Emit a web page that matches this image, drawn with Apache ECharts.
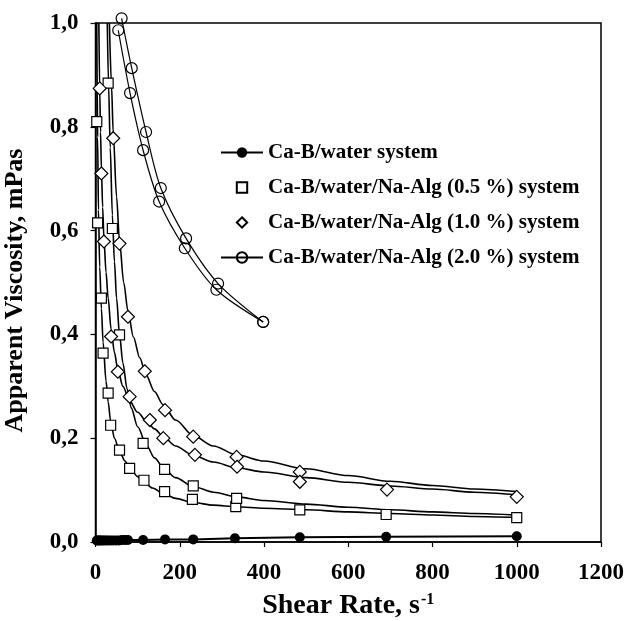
<!DOCTYPE html>
<html>
<head>
<meta charset="utf-8">
<script src="https://cdn.jsdelivr.net/npm/echarts@6/dist/echarts.min.js"></script>
<style>
html,body{margin:0;padding:0;background:#fff;}
#chart{width:624px;height:621px;}
</style>
</head>
<body>
<div id="chart"></div>
<script>
// ---- tick labels ----
const xTickLabels = ['0', '200', '400', '600', '800', '1000', '1200'];
const yTickLabels = ['0,0', '0,2', '0,4', '0,6', '0,8', '1,0'];

// ---- legend names ----
const names = [
  'Ca-B/water system',
  'Ca-B/water/Na-Alg (0.5 %) system',
  'Ca-B/water/Na-Alg (1.0 %) system',
  'Ca-B/water/Na-Alg (2.0 %) system'
];

// ---- Ca-B/water ----
const waterX = [3, 6, 9, 12, 16, 20, 25, 30, 36, 42, 49, 56, 63, 70, 77, 113, 165, 232, 331, 485, 690, 1000];
const waterY = [0.003, 0.003, 0.003, 0.003, 0.003, 0.003, 0.003, 0.003, 0.003, 0.003, 0.003, 0.003, 0.004, 0.004, 0.004, 0.004, 0.005, 0.005, 0.007, 0.009, 0.010, 0.011];

// ---- 0.5 % (squares) ----
const sq1X = [3, 5, 14, 18, 30, 36, 57, 81, 115, 164, 230, 333, 485, 690, 1000];
const sq1Y = [0.81, 0.615, 0.47, 0.364, 0.287, 0.225, 0.177, 0.142, 0.119, 0.097, 0.082, 0.068, 0.062, 0.053, 0.047];
const sq2X = [30, 40, 57, 113, 164, 232, 335];
const sq2Y = [0.884, 0.604, 0.399, 0.190, 0.140, 0.108, 0.084];
const fitSq1X = [3, 4, 5, 7, 10, 14, 18, 25, 30, 36, 45, 57, 70, 81, 100, 115, 135, 164, 190, 232, 280, 335, 400, 500, 600, 700, 800, 900, 1000];
const fitSq1Y = [1.0, 0.88, 0.78, 0.64, 0.53, 0.45, 0.385, 0.31, 0.27, 0.232, 0.20, 0.175, 0.156, 0.143, 0.126, 0.115, 0.104, 0.092, 0.084, 0.076, 0.071, 0.068, 0.065, 0.062, 0.058, 0.055, 0.052, 0.049, 0.047];
const fitSq2X = [28, 31, 35, 40, 45, 50, 57, 65, 75, 85, 100, 122, 140, 164, 190, 232, 280, 335, 400, 500, 600, 700, 800, 900, 1000];
const fitSq2Y = [1.0, 0.88, 0.76, 0.63, 0.54, 0.47, 0.40, 0.345, 0.295, 0.258, 0.222, 0.185, 0.162, 0.140, 0.124, 0.107, 0.096, 0.087, 0.080, 0.073, 0.067, 0.062, 0.058, 0.055, 0.052];

// ---- 1.0 % (diamonds) ----
const d1X = [42, 57, 77, 117, 165, 232, 335, 485, 692, 1000];
const d1Y = [0.778, 0.575, 0.434, 0.329, 0.254, 0.203, 0.164, 0.135, 0.101, 0.087];
const d2X = [10, 14, 20, 37, 53, 81, 129, 161, 236, 336, 485];
const d2Y = [0.874, 0.71, 0.579, 0.396, 0.328, 0.28, 0.235, 0.2, 0.168, 0.145, 0.116];
const fitD1X = [33, 38, 42, 50, 57, 67, 77, 90, 105, 120, 140, 160, 190, 232, 280, 335, 400, 500, 600, 700, 800, 900, 1000];
const fitD1Y = [1.0, 0.88, 0.79, 0.665, 0.58, 0.50, 0.445, 0.395, 0.355, 0.322, 0.29, 0.265, 0.235, 0.205, 0.185, 0.168, 0.156, 0.141, 0.128, 0.117, 0.109, 0.102, 0.097];
const fitD2X = [8, 10, 12, 14, 17, 20, 25, 30, 37, 45, 53, 65, 81, 100, 122, 140, 161, 190, 232, 280, 335, 400, 500, 600, 700, 800, 900, 1000];
const fitD2Y = [1.0, 0.87, 0.79, 0.72, 0.645, 0.585, 0.52, 0.47, 0.41, 0.365, 0.332, 0.30, 0.272, 0.25, 0.232, 0.218, 0.203, 0.185, 0.167, 0.154, 0.143, 0.135, 0.124, 0.115, 0.108, 0.102, 0.096, 0.091];

// ---- 2.0 % (circles) ----
const c1X = [62, 86, 120, 155, 215, 291, 398];
const c1Y = [1.009, 0.913, 0.79, 0.682, 0.585, 0.498, 0.424];
const c2X = [54, 82, 113, 151, 212, 287, 398];
const c2Y = [0.986, 0.865, 0.755, 0.656, 0.566, 0.486, 0.424];

const pairs = (xs, ys) => xs.map((x, i) => [x, ys[i]]);
const FONT = 'Liberation Serif';

const chart = echarts.init(document.getElementById('chart'), null, {renderer: 'canvas'});

const fitLine = (name, xs, ys) => ({
  name: name, type: 'line', data: pairs(xs, ys), showSymbol: false, symbol: 'none',
  smooth: 0.3, smoothMonotone: 'x', clip: true, z: 2,
  lineStyle: {color: '#000', width: 1.6}, silent: true
});
// markers only (line series with invisible line so the legend icon keeps its aspect)
const markerSeries = (name, xs, ys, symbol, size) => ({
  name: name, type: 'line', data: pairs(xs, ys), symbol: symbol, symbolSize: size, z: 4,
  itemStyle: {color: '#fff', borderColor: '#000', borderWidth: 1.2},
  lineStyle: {width: 0, opacity: 0}
});

chart.setOption({
  backgroundColor: '#fff',
  animation: false,
  grid: {left: 95.5, right: 23, top: 23, bottom: 79, containLabel: false, outerBoundsMode: 'none',
         show: true, borderColor: '#000', borderWidth: 1.5, backgroundColor: 'transparent'},
  legend: {
    data: names,
    orient: 'vertical',
    left: 215, top: 137,
    itemWidth: 42, itemHeight: 13, itemGap: 14,
    textStyle: {fontFamily: FONT, fontWeight: 'bold', fontSize: 21, color: '#000'},
    selectedMode: false
  },
  xAxis: {
    type: 'value', min: 0, max: 1200, interval: 200,
    name: '{a|Shear Rate, s}{b|-1}',
    nameLocation: 'middle', nameGap: 50,
    nameTextStyle: {
      rich: {
        a: {fontFamily: FONT, fontWeight: 'bold', fontSize: 28, color: '#000'},
        b: {fontFamily: FONT, fontWeight: 'bold', fontSize: 16, color: '#000', verticalAlign: 'top', padding: [0, 0, 12, 1]}
      }
    },
    axisLine: {show: true, onZero: false, lineStyle: {color: '#000', width: 1.5}},
    axisTick: {show: true, inside: false, length: 5, lineStyle: {color: '#000', width: 1.2}},
    axisLabel: {
      margin: 20, fontFamily: FONT, fontWeight: 'bold', fontSize: 23, color: '#000',
      formatter: v => xTickLabels[Math.round(v / 200)]
    },
    splitLine: {show: false}
  },
  yAxis: {
    type: 'value', min: 0, max: 1.0, interval: 0.2,
    name: 'Apparent Viscosity, mPas',
    nameLocation: 'middle', nameGap: 67,
    nameTextStyle: {fontFamily: FONT, fontWeight: 'bold', fontSize: 26, color: '#000', padding: [0, 16, 0, 0]},
    axisLine: {show: true, onZero: false, lineStyle: {color: '#000', width: 1.5}},
    axisTick: {show: true, inside: false, length: 5, lineStyle: {color: '#000', width: 1.2}},
    axisLabel: {
      margin: 17, fontFamily: FONT, fontWeight: 'bold', fontSize: 23, color: '#000',
      formatter: v => yTickLabels[Math.round(v / 0.2)]
    },
    splitLine: {show: false}
  },
  series: [
    fitLine('fit05a', fitSq1X, fitSq1Y),
    fitLine('fit05b', fitSq2X, fitSq2Y),
    fitLine('fit10a', fitD1X, fitD1Y),
    fitLine('fit10b', fitD2X, fitD2Y),
    {
      name: names[0], type: 'line', data: pairs(waterX, waterY), symbol: 'circle', symbolSize: 10, z: 5,
      itemStyle: {color: '#000'}, lineStyle: {color: '#000', width: 2}
    },
    markerSeries(names[1], sq1X, sq1Y, 'rect', 10),
    markerSeries('sq2', sq2X, sq2Y, 'rect', 10),
    markerSeries(names[2], d1X, d1Y, 'diamond', 13),
    markerSeries('d2', d2X, d2Y, 'diamond', 13),
    {
      name: names[3], type: 'line', data: pairs(c1X, c1Y), symbol: 'circle', symbolSize: 11, z: 5,
      smooth: 0.3, clip: false,
      itemStyle: {color: 'rgba(255,255,255,0)', borderColor: '#000', borderWidth: 1.2},
      lineStyle: {color: '#000', width: 1.2}
    },
    {
      name: 'c2', type: 'line', data: pairs(c2X, c2Y), symbol: 'circle', symbolSize: 11, z: 5,
      smooth: 0.3, clip: false,
      itemStyle: {color: 'rgba(255,255,255,0)', borderColor: '#000', borderWidth: 1.2},
      lineStyle: {color: '#000', width: 1.2}
    }
  ]
});
</script>
</body>
</html>
